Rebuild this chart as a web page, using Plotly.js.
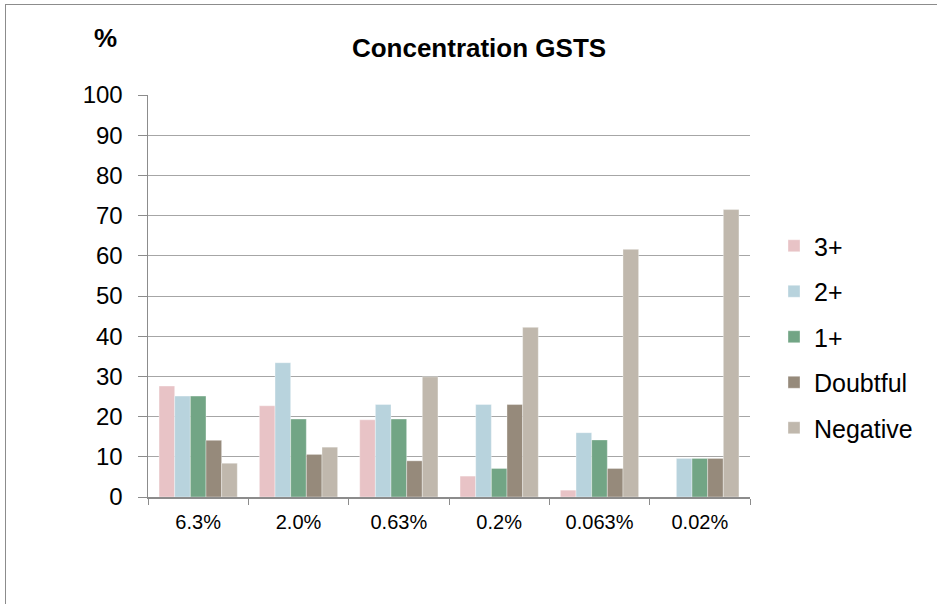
<!DOCTYPE html>
<html>
<head>
<meta charset="utf-8">
<script src="https://cdn.plot.ly/plotly-3.0.1.min.js"></script>
<style>
  html, body { margin: 0; padding: 0; background: #fff; }
  #wrap { position: relative; width: 937px; height: 604px; overflow: hidden; }
  #chart { position: absolute; left: 0; top: 0; width: 937px; height: 604px; }
  #frame { position: absolute; left: 5px; top: 4px; width: 940px; height: 610px;
           border-left: 1px solid #8c8c8c; border-top: 1px solid #8c8c8c; pointer-events: none; }
</style>
</head>
<body>
<div id="wrap">
  <div id="chart"></div>
  <div id="frame"></div>
</div>
<script>
const categories = ["6.3%", "2.0%", "0.63%", "0.2%", "0.063%", "0.02%"];
const seriesNames = ["3+", "2+", "1+", "Doubtful", "Negative"];
const s3plus    = [27.6, 22.7, 19.2, 5.2, 1.7, 0];
const s2plus    = [25.1, 33.4, 23.0, 23.0, 16.0, 9.6];
const s1plus    = [25.1, 19.4, 19.4, 7.1, 14.2, 9.6];
const sDoubtful = [14.1, 10.6, 9.0, 23.0, 7.1, 9.6];
const sNegative = [8.4, 12.4, 29.9, 42.2, 61.6, 71.5];
const yTicks = [0, 10, 20, 30, 40, 50, 60, 70, 80, 90, 100];

const seriesValues = [s3plus, s2plus, s1plus, sDoubtful, sNegative];
const colors = ["#E8C3C6", "#B8D3DD", "#72A585", "#968A7B", "#C0B8AD"];

const traces = seriesValues.map((vals, i) => ({
  type: "bar",
  name: seriesNames[i],
  x: categories,
  y: vals,
  legendgroup: "g" + i,
  marker: { color: colors[i], line: { color: "rgba(255,255,255,0.6)", width: 0.6 } },
  hoverinfo: "x+y+name"
}));

const font = "Liberation Sans, Arial, sans-serif";

const layout = {
  width: 937,
  height: 604,
  margin: { l: 148, r: 187, t: 95, b: 107 },
  paper_bgcolor: "#ffffff",
  plot_bgcolor: "#ffffff",
  font: { family: font, color: "#000000" },
  barmode: "group",
  bargap: 0.22,
  bargroupgap: 0,
  title: {
    text: "<b>Concentration GSTS</b>",
    font: { family: font, size: 26, color: "#000" },
    xref: "paper", x: (479 - 148) / 602, xanchor: "center",
    yref: "container", y: 1 - 48 / 604, yanchor: "middle"
  },
  xaxis: {
    type: "category",
    showline: true, linecolor: "#8c8c8c", linewidth: 1.5,
    ticks: "outside", tickson: "boundaries", ticklen: 6, tickcolor: "#8c8c8c",
    tickfont: { family: font, size: 20, color: "#000" },
    ticklabelstandoff: 6,
    showgrid: false, zeroline: false,
    fixedrange: true
  },
  yaxis: {
    range: [0, 100],
    tickvals: yTicks,
    ticktext: yTicks.map(String),
    showline: true, linecolor: "#8c8c8c", linewidth: 1.5,
    ticks: "outside", ticklen: 9, tickcolor: "#8c8c8c",
    tickfont: { family: font, size: 24, color: "#000" },
    ticklabelstandoff: 10,
    showgrid: true, gridcolor: "#a6a6a6", gridwidth: 1,
    zeroline: false,
    fixedrange: true
  },
  legend: {
    x: (774 - 148) / 602, xanchor: "left",
    y: (497 - 223) / 402, yanchor: "top",
    traceorder: "grouped",
    tracegroupgap: 10,
    font: { family: font, size: 25, color: "#000" },
    bgcolor: "rgba(0,0,0,0)",
    itemwidth: 30
  },
  annotations: [{
    text: "<b>%</b>",
    xref: "paper", yref: "paper",
    x: (105.5 - 148) / 602, y: (497 - 38.5) / 402,
    xanchor: "center", yanchor: "middle",
    showarrow: false,
    font: { family: font, size: 26, color: "#000" }
  }]
};

Plotly.newPlot("chart", traces, layout, { displayModeBar: false, staticPlot: true });
</script>
</body>
</html>
